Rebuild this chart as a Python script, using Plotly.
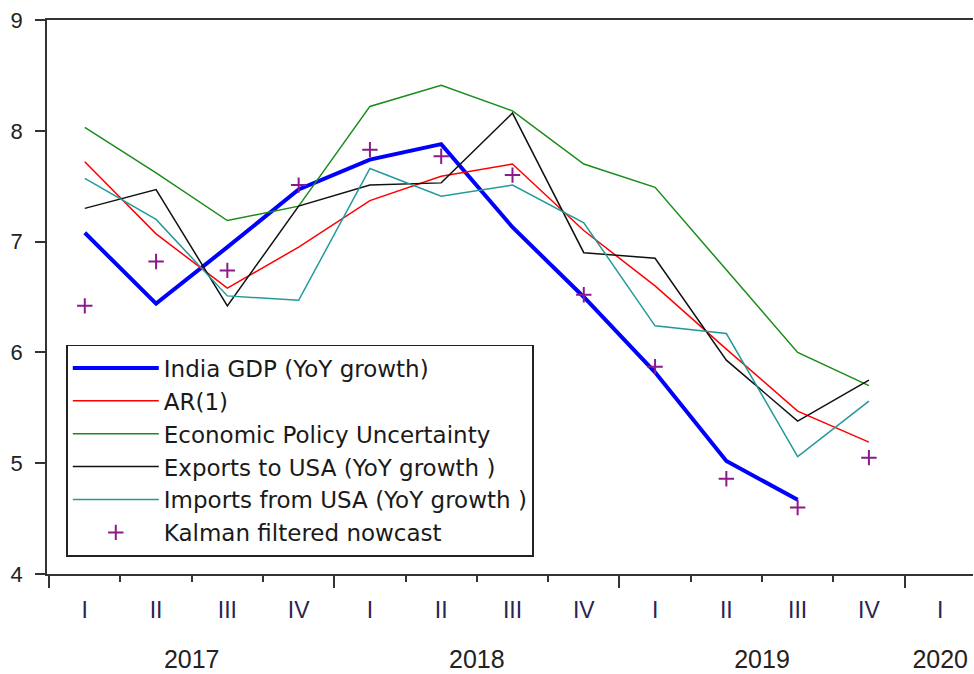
import plotly.graph_objects as go

quarters = ["2017Q1", "2017Q2", "2017Q3", "2017Q4",
            "2018Q1", "2018Q2", "2018Q3", "2018Q4",
            "2019Q1", "2019Q2", "2019Q3", "2019Q4"]
quarter_labels = ["I", "II", "III", "IV", "I", "II", "III", "IV", "I", "II", "III", "IV", "I"]
years = ["2017", "2018", "2019", "2020"]

gdp = [7.08, 6.44, 6.95, 7.47, 7.74, 7.88, 7.13, 6.50, 5.82, 5.02, 4.67, None]
ar1 = [7.72, 7.07, 6.58, 6.95, 7.37, 7.59, 7.70, 7.10, 6.60, 6.03, 5.47, 5.19]
epu = [8.03, 7.62, 7.19, 7.32, 8.22, 8.41, 8.18, 7.70, 7.49, 6.75, 6.00, 5.70]
exports = [7.30, 7.47, 6.42, 7.32, 7.51, 7.53, 8.16, 6.90, 6.85, 5.93, 5.38, 5.75]
imports = [7.57, 7.20, 6.51, 6.47, 7.66, 7.41, 7.51, 7.17, 6.24, 6.17, 5.06, 5.56]
kalman = [6.42, 6.82, 6.74, 7.51, 7.83, 7.77, 7.60, 6.52, 5.87, 4.86, 4.60, 5.05]

x = list(range(len(quarters)))
FONT = "Arial, Liberation Sans, sans-serif"
LEGEND_FONT = "DejaVu Sans, Arial, sans-serif"

fig = go.Figure()
line_series = [
    ("India GDP (YoY growth)", gdp, "#0000FF", 4),
    ("AR(1)", ar1, "#FF0000", 1.5),
    ("Economic Policy Uncertainty", epu, "#1A8C1A", 1.5),
    ("Exports to USA (YoY growth )", exports, "#111111", 1.5),
    ("Imports from USA (YoY growth )", imports, "#239A9A", 1.5),
]
for name, vals, col, w in line_series:
    fig.add_trace(go.Scatter(x=x, y=vals, name=name, mode="lines",
                             line=dict(color=col, width=w), connectgaps=False))
fig.add_trace(go.Scatter(x=x, y=kalman, name="Kalman filtered nowcast", mode="markers",
                         marker=dict(symbol="cross-thin", size=11,
                                     line=dict(color="#8B1A8B", width=2), color="#8B1A8B")))

# invisible traces to activate overlay axes
n_q = len(quarter_labels)
fig.add_trace(go.Scatter(x=[0, n_q - 1], y=[None, None], xaxis="x2", showlegend=False, hoverinfo="skip"))
fig.add_trace(go.Scatter(x=[0, n_q - 1], y=[None, None], xaxis="x3", showlegend=False, hoverinfo="skip"))

xr = [-0.53, 12.46]
year_bounds = [-0.5, 3.5, 7.5, 11.5]
minor_bounds = [i + 0.5 for i in range(-1, 13) if (i + 0.5) not in year_bounds]
year_centers = [1.5, 5.5, 9.5, 12]

fig.update_layout(
    width=974, height=674,
    margin=dict(l=47, r=1, t=20, b=96),
    paper_bgcolor="white", plot_bgcolor="white",
    font=dict(family=FONT, color="#222222"),
    showlegend=True,
    legend=dict(
        x=0.0205, y=0.414, xanchor="left", yanchor="top",
        bgcolor="white", bordercolor="#222222", borderwidth=1.8,
        font=dict(family=LEGEND_FONT, size=23, color="#1a1a1a"),
        itemwidth=86, tracegroupgap=0,
    ),
    xaxis=dict(
        range=xr, showgrid=False, zeroline=False,
        showline=True, linecolor="#333333", linewidth=1.5, mirror=True,
        tickmode="array", tickvals=year_bounds, ticks="outside",
        ticklen=12, tickwidth=1.5, tickcolor="#333333", showticklabels=False,
        minor=dict(tickmode="array", tickvals=minor_bounds, ticks="outside",
                   ticklen=6, tickwidth=1.5, tickcolor="#333333"),
    ),
    xaxis2=dict(
        range=xr, overlaying="x", anchor="y", side="bottom",
        showgrid=False, zeroline=False, showline=False,
        tickmode="array", tickvals=list(range(n_q)), ticktext=quarter_labels,
        ticks="", ticklabelstandoff=20,
        tickfont=dict(family=FONT, size=23, color="#2a2550"),
    ),
    xaxis3=dict(
        range=xr, overlaying="x", anchor="y", side="bottom",
        showgrid=False, zeroline=False, showline=False,
        tickmode="array", tickvals=year_centers, ticktext=years,
        ticks="", ticklabelstandoff=68,
        tickfont=dict(family=FONT, size=25, color="#222222"),
    ),
    yaxis=dict(
        range=[4, 9], showgrid=False, zeroline=False,
        showline=True, linecolor="#333333", linewidth=1.5, mirror=False,
        tickmode="array", tickvals=[4, 5, 6, 7, 8, 9],
        ticks="outside", ticklen=10, tickwidth=1.5, tickcolor="#333333",
        tickfont=dict(family=FONT, size=22, color="#222222"),
        ticklabelstandoff=8,
    ),
)

fig.write_html("out.html", config={"displayModeBar": False},
               post_script="document.body.style.margin='0';")
